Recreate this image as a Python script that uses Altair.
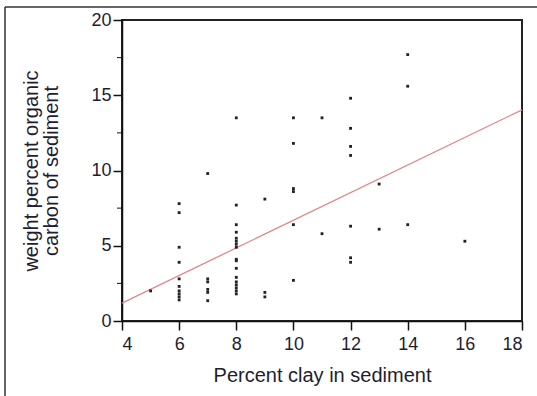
import altair as alt
import pandas as pd

# Sediment samples: clay content (%) and organic carbon (wt %)
clay = [5,
        6, 6, 6, 6, 6, 6, 6, 6, 6, 6,
        7, 7, 7, 7, 7, 7,
        8, 8, 8, 8, 8, 8, 8, 8, 8, 8, 8, 8, 8, 8, 8, 8, 8,
        9, 9, 9,
        10, 10, 10, 10, 10, 10,
        11, 11,
        12, 12, 12, 12, 12, 12, 12,
        13, 13,
        14, 14, 14,
        16]
carbon = [2.0,
          7.8, 7.2, 4.9, 3.9, 2.8, 2.3, 2.0, 1.8, 1.6, 1.4,
          9.8, 2.8, 2.6, 2.1, 1.9, 1.35,
          13.5, 7.7, 6.4, 5.9, 5.5, 5.3, 5.1, 4.9, 4.1, 4.0, 3.5, 2.9, 2.6, 2.4, 2.2, 2.0, 1.8,
          8.1, 1.9, 1.6,
          13.5, 11.8, 8.8, 8.6, 6.4, 2.7,
          13.5, 5.8,
          14.8, 12.8, 11.6, 11.0, 6.3, 4.2, 3.9,
          9.1, 6.1,
          17.7, 15.6, 6.4,
          5.3]

# Least-squares fit line end points
fit_clay = [4, 18]
fit_carbon = [1.19, 14.03]

# Minor tick positions on the carbon axis
minor_ticks = [2.5, 7.5, 12.5, 17.5]

samples = pd.DataFrame({"clay": clay, "carbon": carbon})
fit = pd.DataFrame({"clay": fit_clay, "carbon": fit_carbon})
minor = pd.DataFrame({"carbon": minor_ticks})

FONT = "Liberation Sans"
INK = "#1e1e30"

x_scale = alt.Scale(domain=[4, 18], nice=False, zero=False)
y_scale = alt.Scale(domain=[0, 20], nice=False)

x_axis = alt.Axis(values=list(range(4, 19, 2)), title="Percent clay in sediment",
                  grid=False, tickSize=9, labelPadding=5, titlePadding=12)
y_axis = alt.Axis(values=[0, 5, 10, 15, 20], title=["weight percent organic", "carbon of sediment"],
                  grid=False, tickSize=9, labelPadding=2, titlePadding=29,
                  titleLineHeight=20)

points = alt.Chart(samples).mark_square(size=8, color="#222222", opacity=1).encode(
    x=alt.X("clay:Q", scale=x_scale, axis=x_axis),
    y=alt.Y("carbon:Q", scale=y_scale, axis=y_axis),
)

line = alt.Chart(fit).mark_line(color="#e2868a", strokeWidth=1.3).encode(
    x=alt.X("clay:Q", scale=x_scale),
    y=alt.Y("carbon:Q", scale=y_scale),
)

minor_rules = alt.Chart(minor).mark_rule(color="#111111", strokeWidth=1).encode(
    x=alt.value(-5),
    x2=alt.value(0),
    y=alt.Y("carbon:Q", scale=y_scale),
)

# Outer page frame (top and left edges)
frame_top = alt.Chart(pd.DataFrame({"k": [0]})).mark_rule(color="#333333", strokeWidth=1.5).encode(
    x=alt.value(-117), x2=alt.value(420), y=alt.value(-13),
)
frame_left = alt.Chart(pd.DataFrame({"k": [0]})).mark_rule(color="#333333", strokeWidth=1.5).encode(
    x=alt.value(-117), y=alt.value(-13), y2=alt.value(380),
)

chart = alt.layer(minor_rules, line, points, frame_top, frame_left).properties(
    width=400,
    height=301,
    autosize=alt.AutoSizeParams(type="none"),
    padding={"left": 122, "top": 20, "right": 15, "bottom": 75},
    background="white",
).configure_view(
    stroke="#222222", strokeWidth=2,
).configure_axis(
    domainColor="#111111", domainWidth=1.5, tickColor="#111111", tickWidth=1.5,
    labelFont=FONT, titleFont=FONT, labelFontSize=18, titleFontSize=20,
    labelColor=INK, titleColor=INK, titleFontWeight="normal",
)

chart.save("out.html", embed_options={"renderer": "svg", "actions": False})
